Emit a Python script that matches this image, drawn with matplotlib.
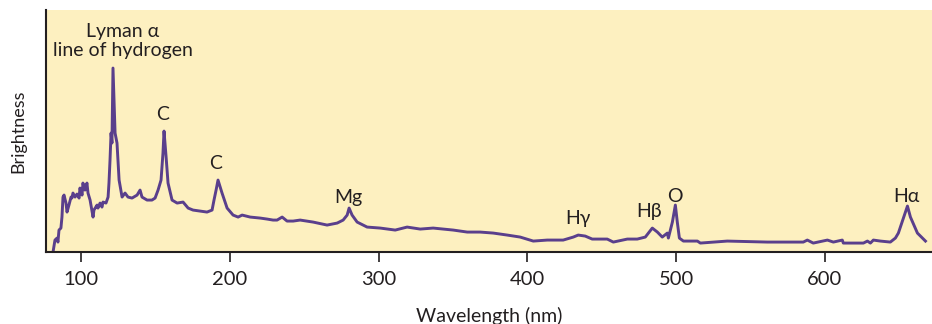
import matplotlib.pyplot as plt

plt.rcParams['font.family'] = ['Lato', 'DejaVu Sans']

# wavelength (nm) and brightness (arbitrary units)
wavelength = [81.2, 82.5, 83.9, 84.5, 85.2, 86.5, 87.2, 87.9, 88.6, 89.9,
              90.6, 91.9, 93.3, 93.9, 94.6, 96.0, 97.3, 98.7, 99.3, 100.7,
              101.3, 102.7, 104.0, 104.7, 106.1, 108.1, 108.7, 110.8, 111.4, 112.8,
              114.1, 114.8, 116.8, 118.2, 118.8,
              119.5, 120.2, 120.8, 121.5, 122.2, 122.9,
              124.2, 125.6, 127.6, 129.6, 131.6, 134.3, 137.7, 139.7, 141.0, 144.4,
              147.7, 149.8, 151.8, 153.8, 155.1, 155.8, 157.2, 158.5, 161.2, 164.6,
              168.6, 172.0, 175.3, 180.0, 184.7, 188.1, 189.4, 190.8, 192.1, 194.8,
              198.2, 202.2, 205.6, 208.3, 213.7, 220.4, 225.1, 229.1, 231.8, 235.2,
              238.5, 242.6, 247.3, 256.0, 265.4, 272.2, 276.2, 278.9, 280.2, 282.2,
              285.6, 292.3, 301.1, 311.2, 319.2, 328.0, 336.7, 350.2, 359.6, 368.3,
              377.1, 386.5, 395.2, 404.0, 413.4, 424.1, 430.9, 434.2, 438.9, 443.6,
              453.7, 457.8, 467.2, 473.9, 479.3, 484.0, 487.4, 490.7, 494.1, 494.8,
              497.5, 499.5, 500.8, 502.2, 504.9, 514.3, 516.3, 534.4, 561.3, 585.5,
              588.2, 592.2, 601.7, 605.7, 611.7, 612.4, 625.9, 628.6, 630.6, 632.6,
              637.3, 644.0, 647.4, 649.4, 652.8, 655.5, 657.5, 662.2, 667.6]
brightness = [0, 12, 14, 10, 22, 24, 35, 55, 57, 49,
              40, 47, 55, 54, 59, 55, 58, 54, 64, 57,
              69, 62, 69, 59, 52, 35, 42, 47, 44, 49,
              45, 50, 49, 55, 69,
              92, 119, 109, 184, 152, 119,
              109, 72, 55, 59, 55, 54, 57, 62, 55, 52,
              52, 54, 62, 72, 99, 121, 95, 69, 52, 49,
              50, 44, 42, 41, 40, 42, 52, 62, 72, 59,
              44, 37, 35, 37, 35, 34, 33, 32, 32, 35,
              31, 31, 32, 30, 27, 29, 32, 37, 44, 37,
              30, 25, 24, 22, 25, 23, 24, 22, 20, 20,
              19, 17, 15, 11, 12, 12, 15, 17, 16, 13,
              13, 10, 13, 13, 15, 24, 20, 15, 19, 14,
              30, 47, 30, 14, 11, 11, 9, 11, 10, 10,
              12, 9, 12, 10, 12, 9, 9, 11, 9, 12,
              11, 10, 14, 19, 34, 46, 35, 19, 11]

labels = ['Lyman \u03b1\nline of hydrogen', 'C', 'C', 'Mg', 'H\u03b3', 'H\u03b2', 'O', 'H\u03b1']
label_x = [128, 155.1, 190.5, 280, 434, 481.5, 499.5, 655]
label_y = [193, 129, 80, 46, 25, 32, 47, 47]

fig = plt.figure(figsize=(9.32, 3.24), dpi=100)
ax = fig.add_axes([0.0494, 0.222, 0.9506, 0.747])
ax.set_facecolor('#fdf0c0')

ax.plot(wavelength, brightness, color='#5a3f8c', lw=2.1, solid_joinstyle='round')

for t, x, y in zip(labels, label_x, label_y):
    ax.text(x, y, t, ha='center', va='bottom', fontsize=14, color='#231f20',
            linespacing=1.15)

ax.set_xlim(76.5, 672)
ax.set_ylim(0, 242)
ax.set_xticks([100, 200, 300, 400, 500, 600])
ax.set_yticks([])
ax.tick_params(axis='x', direction='out', length=7.5, width=1.2, color='#231f20',
               labelsize=14.5, labelcolor='#231f20', pad=6)
for s in ['top', 'right']:
    ax.spines[s].set_visible(False)
for s in ['left', 'bottom']:
    ax.spines[s].set_linewidth(1.5)
    ax.spines[s].set_color('#231f20')

ax.set_xlabel('Wavelength (nm)', fontsize=14, color='#231f20', labelpad=14)
ax.set_ylabel('Brightness', fontsize=13, color='#231f20', labelpad=14)

fig.savefig('out.png', dpi=100)
